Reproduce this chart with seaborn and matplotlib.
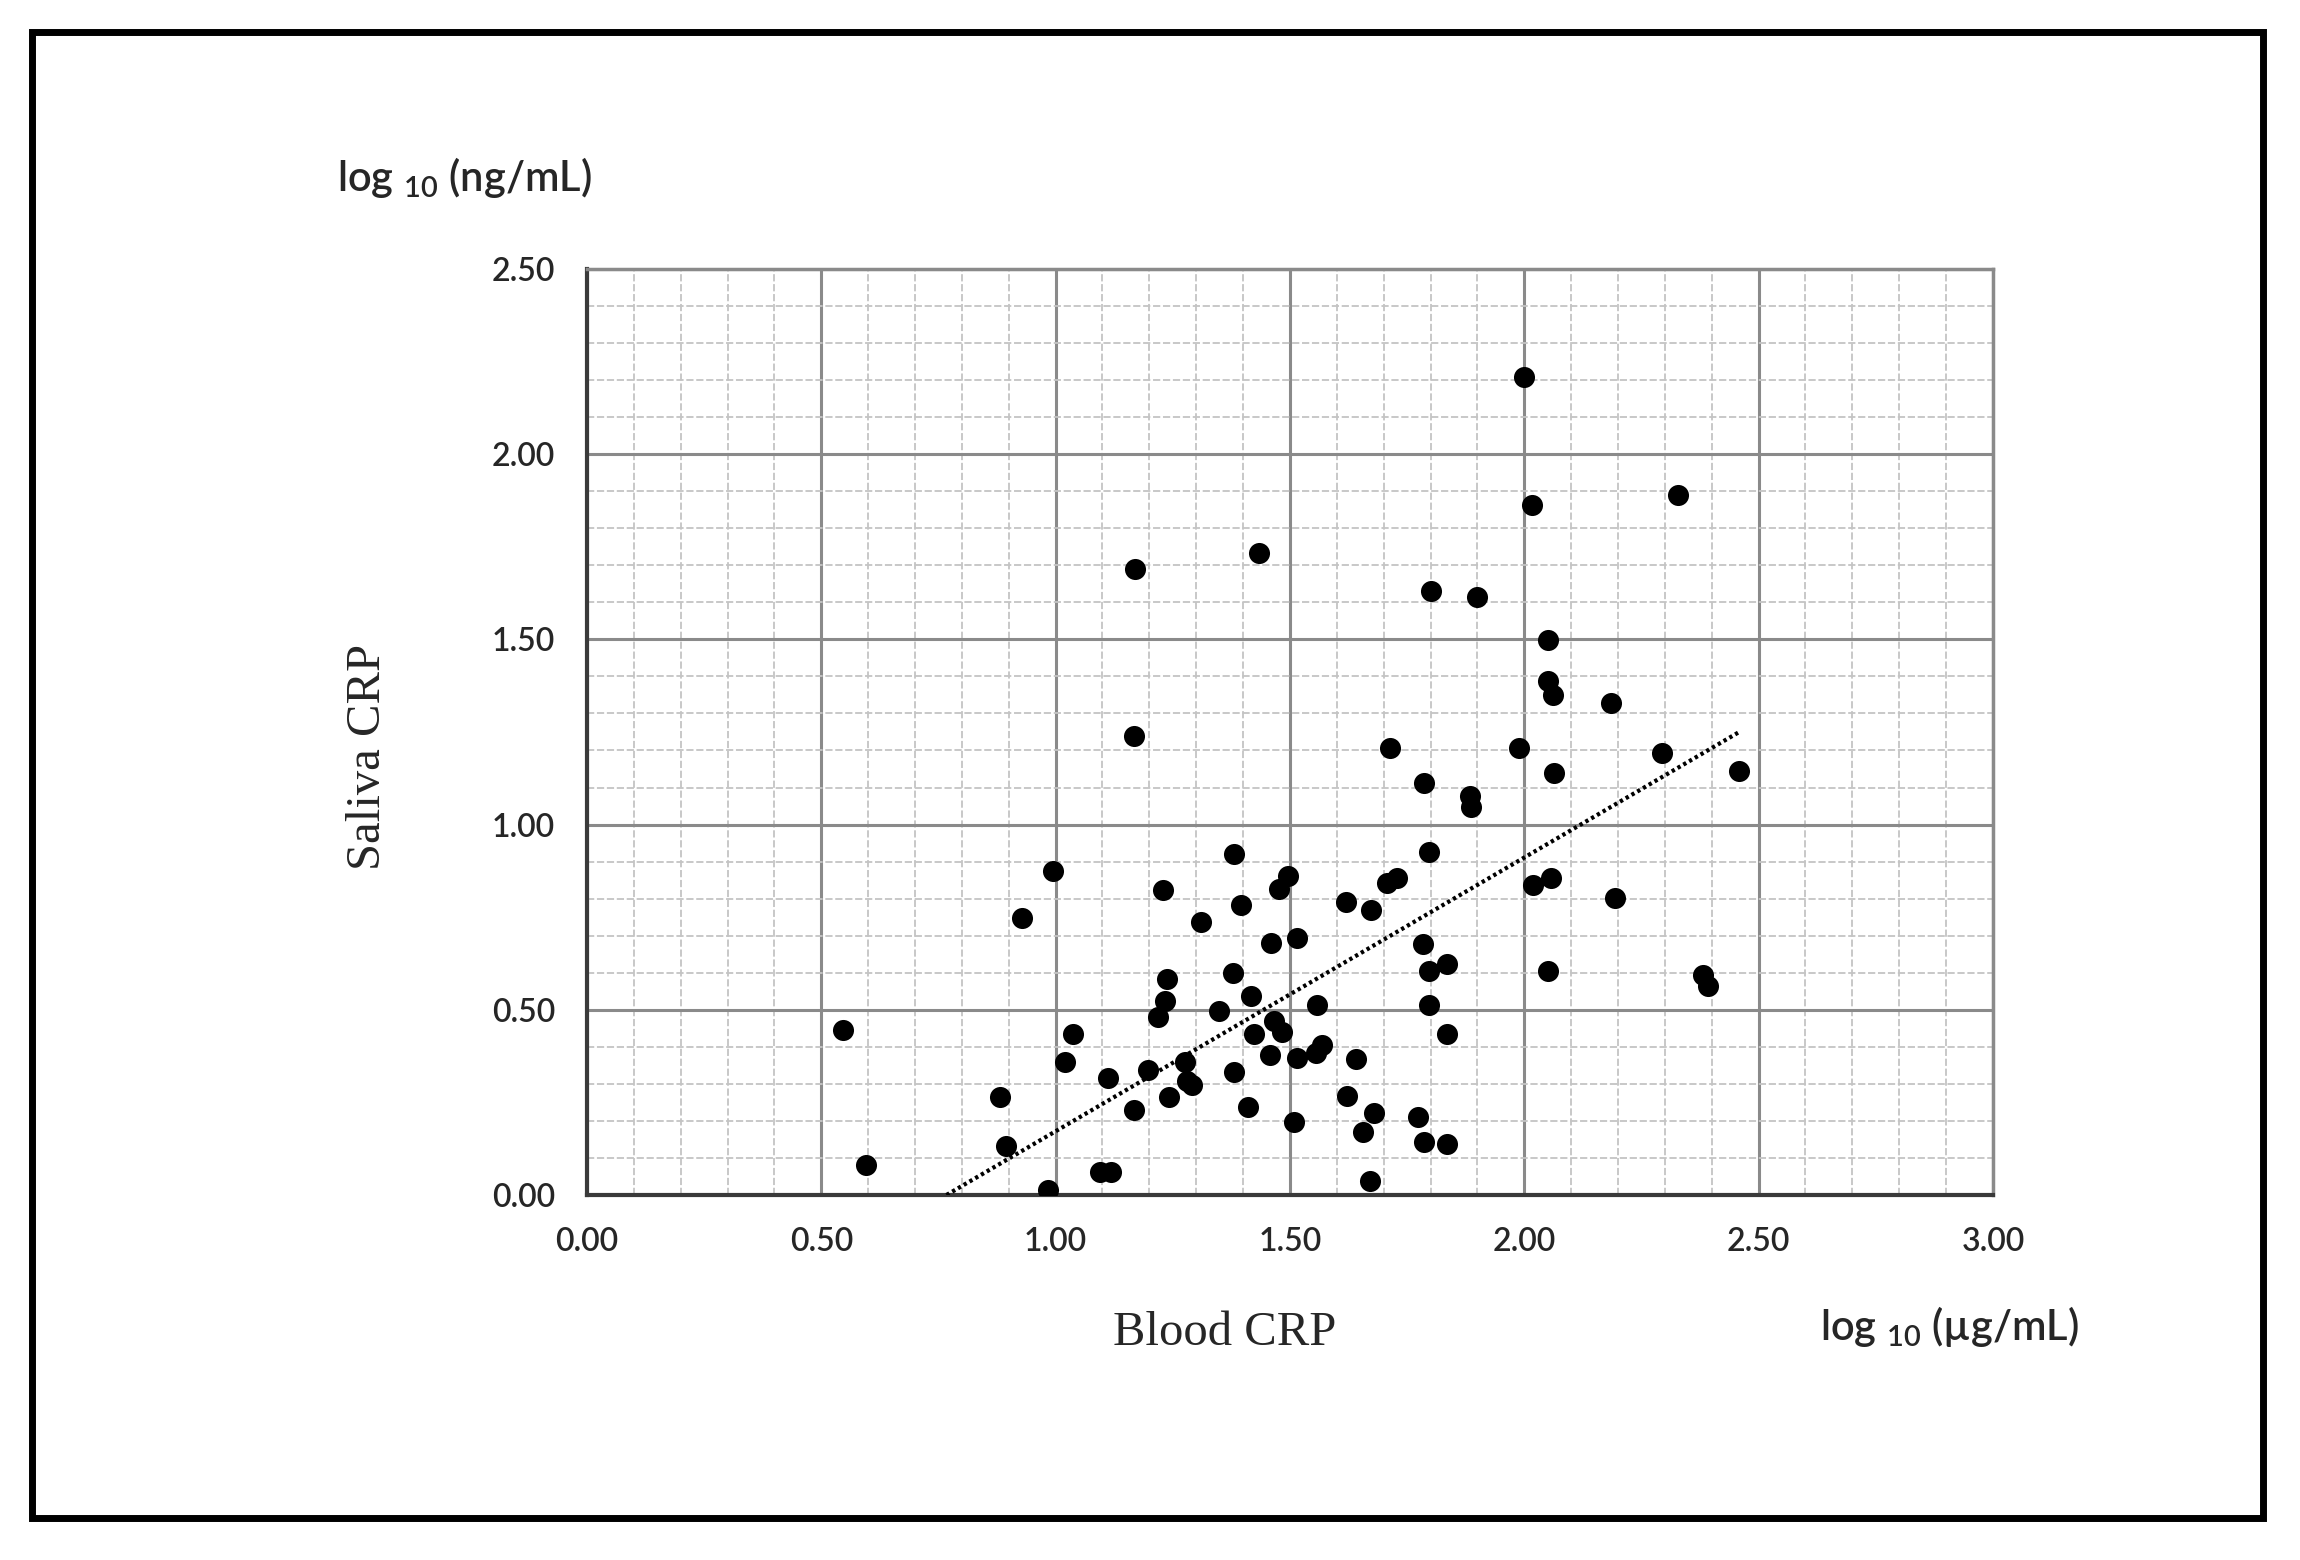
import numpy as np
import pandas as pd
import matplotlib.pyplot as plt
import seaborn as sns
from matplotlib.patches import Rectangle
from matplotlib.ticker import MultipleLocator, FormatStrFormatter

# log10 blood CRP (ug/mL) vs log10 saliva CRP (ng/mL)
blood_crp = [
    0.546, 0.595, 0.881, 0.895, 0.929, 0.995, 0.984, 1.019, 1.038, 1.095,
    1.119, 1.112, 1.167, 1.170, 1.167, 1.197, 1.219, 1.229, 1.233, 1.238,
    1.241, 1.276, 1.281, 1.290, 1.310, 1.348, 1.379, 1.381, 1.381, 1.395,
    1.410, 1.416, 1.424, 1.433, 1.457, 1.460, 1.476, 1.495, 1.467, 1.484,
    1.516, 1.514, 1.508, 1.555, 1.569, 1.557, 1.620, 1.622, 1.640, 1.655,
    1.671, 1.672, 1.680, 1.707, 1.729, 1.713, 1.773, 1.784, 1.786, 1.787,
    1.797, 1.797, 1.797, 1.800, 1.835, 1.836, 1.836, 1.884, 1.887, 1.900,
    1.988, 2.000, 2.016, 2.018, 2.050, 2.050, 2.062, 2.064, 2.056, 2.051,
    2.185, 2.193, 2.294, 2.329, 2.381, 2.392, 2.458,
]
saliva_crp = [
    0.444, 0.082, 0.264, 0.132, 0.748, 0.875, 0.013, 0.360, 0.434, 0.061,
    0.061, 0.317, 0.230, 1.689, 1.240, 0.338, 0.480, 0.822, 0.523, 0.582,
    0.264, 0.360, 0.309, 0.296, 0.738, 0.497, 0.598, 0.920, 0.331, 0.782,
    0.238, 0.536, 0.434, 1.732, 0.379, 0.679, 0.826, 0.860, 0.469, 0.440,
    0.693, 0.369, 0.196, 0.382, 0.406, 0.512, 0.792, 0.268, 0.367, 0.169,
    0.037, 0.768, 0.222, 0.841, 0.855, 1.208, 0.210, 0.678, 1.111, 0.144,
    0.925, 0.604, 0.512, 1.631, 0.138, 0.623, 0.435, 1.077, 1.048, 1.613,
    1.208, 2.209, 1.863, 0.836, 1.497, 1.387, 1.351, 1.140, 0.855, 0.604,
    1.327, 0.802, 1.193, 1.889, 0.594, 0.565, 1.145,
]

trend_slope = 0.739
trend_intercept = -0.567

df = pd.DataFrame({"blood": blood_crp, "saliva": saliva_crp})

sns.set_style("white")
plt.rcParams["font.family"] = ["Lato", "DejaVu Sans"]
plt.rcParams["mathtext.fontset"] = "custom"
plt.rcParams["mathtext.rm"] = "Lato:semibold"
plt.rcParams["mathtext.it"] = "Lato:semibold"

fig = plt.figure(figsize=(23, 15.6), dpi=100)
ax = fig.add_axes([0.2552, 0.2340, 0.6113, 0.5936])

# grid first, under the points
ax.xaxis.set_major_locator(MultipleLocator(0.5))
ax.yaxis.set_major_locator(MultipleLocator(0.5))
ax.xaxis.set_minor_locator(MultipleLocator(0.1))
ax.yaxis.set_minor_locator(MultipleLocator(0.1))
ax.grid(which="major", color="#8a8a8a", lw=2.2, ls="-")
ax.grid(which="minor", color="#c4c4c4", lw=1.3, ls=(0, (4, 1.5)))
ax.set_axisbelow(True)

sns.scatterplot(data=df, x="blood", y="saliva", ax=ax, color="black",
                s=230, edgecolor="black", linewidth=0, zorder=3)

trend = pd.DataFrame({"blood": [min(blood_crp), max(blood_crp)]})
trend["saliva"] = trend_intercept + trend_slope * trend["blood"]
sns.lineplot(data=trend, x="blood", y="saliva", ax=ax, color="black",
             lw=3, ls=(0, (0.8, 0.8)), zorder=4)

ax.set_xlim(0, 3.0)
ax.set_ylim(0, 2.5)
ax.xaxis.set_major_formatter(FormatStrFormatter("%.2f"))
ax.yaxis.set_major_formatter(FormatStrFormatter("%.2f"))
ax.set_xlabel("")
ax.set_ylabel("")

ax.tick_params(which="major", length=11, width=2, color="#404040",
               labelsize=23, pad=12)
ax.tick_params(which="minor", length=0)
for lab in ax.get_xticklabels() + ax.get_yticklabels():
    lab.set_fontweight("semibold")

for side in ["left", "bottom"]:
    ax.spines[side].set_color("#3a3a3a")
    ax.spines[side].set_linewidth(3)
for side in ["top", "right"]:
    ax.spines[side].set_color("#8a8a8a")
    ax.spines[side].set_linewidth(2.5)

# axis titles and units
fig.text(0.160, 0.5147, "Saliva CRP", rotation=90, ha="center", va="center",
         fontsize=35, family=["Liberation Serif", "DejaVu Serif"])
fig.text(0.5326, 0.1455, "Blood CRP", ha="center", va="center",
         fontsize=35, family=["Liberation Serif", "DejaVu Serif"])
fig.text(0.1465, 0.8865, r"log $_{10}$ (ng/mL)", ha="left", va="center",
         fontsize=30, fontweight="semibold")
fig.text(0.7913, 0.1494, "log $_{10}$ (\u00b5g/mL)", ha="left", va="center",
         fontsize=30, fontweight="semibold")

# outer frame
fig.patches.append(Rectangle((0.01413, 0.02724), 0.97, 0.95193,
                             transform=fig.transFigure, fill=False,
                             edgecolor="black", lw=5.0))

fig.savefig("out.png", dpi=100)
